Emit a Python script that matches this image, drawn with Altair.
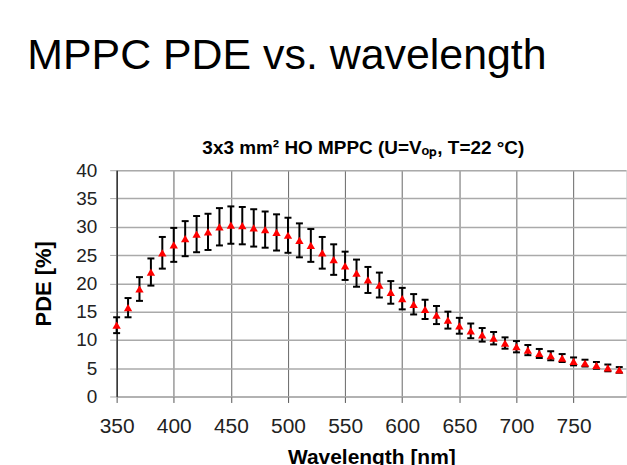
import altair as alt
import pandas as pd

# ---- data ----
wavelength = [350, 360, 370, 380, 390, 400, 410, 420, 430, 440,
              450, 460, 470, 480, 490, 500, 510, 520, 530, 540,
              550, 560, 570, 580, 590, 600, 610, 620, 630, 640,
              650, 660, 670, 680, 690, 700, 710, 720, 730, 740,
              750, 760, 770, 780, 790, 800]
pde = [12.6, 15.7, 19.0, 22.0, 25.4, 26.8, 27.9, 28.7, 29.1, 30.0,
       30.3, 30.2, 29.8, 29.5, 29.0, 28.5, 27.6, 26.7, 25.4, 24.2,
       23.1, 21.8, 20.6, 19.7, 18.4, 17.3, 16.3, 15.4, 14.4, 13.5,
       12.5, 11.6, 10.9, 10.3, 9.45, 8.8, 8.2, 7.6, 7.2, 6.8,
       6.2, 5.9, 5.5, 5.05, 4.7, 4.4]
pde_err = [1.4, 1.7, 2.1, 2.4, 2.8, 3.0, 3.1, 3.2, 3.2, 3.3,
           3.3, 3.3, 3.3, 3.2, 3.2, 3.1, 3.0, 2.9, 2.8, 2.7,
           2.5, 2.4, 2.3, 2.2, 2.0, 1.9, 1.8, 1.7, 1.6, 1.5,
           1.4, 1.3, 1.2, 1.1, 1.0, 1.0, 0.9, 0.8, 0.8, 0.7,
           0.7, 0.6, 0.6, 0.6, 0.5, 0.5]
x_ticks = [350, 400, 450, 500, 550, 600, 650, 700, 750]
x_domain = [350, 795.9]   # the reference is cut off just before 800
y_ticks = [0, 5, 10, 15, 20, 25, 30, 35, 40]

main_title = "MPPC PDE vs. wavelength"
sub_title = "3x3 mm\u00b2 HO MPPC (U=V\u2092\u209a, T=22 \u00b0C)"

df = pd.DataFrame({"wl": wavelength, "pde": pde, "err": pde_err})
df["lo"] = df["pde"] - df["err"]
df["hi"] = df["pde"] + df["err"]

FONT = "Liberation Sans"

x_scale = alt.Scale(domain=x_domain, nice=False, zero=False)
y_scale = alt.Scale(domain=[0, 40], nice=False)

x_axis = alt.Axis(title="Wavelength [nm]", values=x_ticks, format="d",
                  labelFontSize=21, labelFont=FONT, labelColor="#222",
                  labelPadding=13, labelFlush=False, labelOverlap=False,
                  tickSize=6, tickColor="#555",
                  titleFont=FONT, titleFontSize=21, titleFontWeight="bold",
                  titleColor="black", titlePadding=10,
                  domainColor="#aaa", gridColor="#666", gridWidth=1)
y_axis = alt.Axis(title="PDE [%]", values=y_ticks, format="d",
                  labelFontSize=19, labelFont=FONT, labelColor="#222",
                  labelPadding=13, labelFlush=False, labelOverlap=False,
                  tickSize=7, tickColor="#aaa",
                  titleFont=FONT, titleFontSize=22, titleFontWeight="bold",
                  titleColor="black", titlePadding=20,
                  domainColor="black", domainWidth=1,
                  gridColor="#aaa", gridWidth=1.5)

X = alt.X("wl:Q", scale=x_scale, axis=x_axis)

# points beyond the visible right edge of the reference are cut off
base = alt.Chart(df).transform_filter(alt.datum.wl <= x_domain[1])

rules = base.mark_rule(color="black", strokeWidth=2).encode(
    x=X,
    y=alt.Y("lo:Q", scale=y_scale, axis=y_axis),
    y2="hi:Q",
)

caps = base.transform_fold(["lo", "hi"], as_=["k", "v"]).mark_tick(
    orient="horizontal", color="black", thickness=2, size=7, opacity=1,
).encode(
    x=X,
    y=alt.Y("v:Q", scale=y_scale, axis=y_axis),
)

points = base.mark_point(shape="triangle-up", filled=True, color="red",
                         size=70, opacity=1).encode(
    x=X,
    y=alt.Y("pde:Q", scale=y_scale, axis=y_axis),
)

inner = alt.layer(rules, caps, points).properties(
    width=511, height=227,
    title=alt.TitleParams(text=sub_title, font=FONT, fontSize=19,
                          fontWeight="bold", color="black",
                          anchor="middle", offset=3, dx=-8),
)

chart = alt.vconcat(inner).properties(
    title=alt.TitleParams(text=main_title, font=FONT, fontSize=43,
                          fontWeight="normal", color="black",
                          anchor="start", offset=61, dx=-5),
    padding={"left": 27, "top": 34, "right": 0, "bottom": 0},
).configure_view(stroke=None).configure(background="white")

chart.save("out.html", embed_options={"renderer": "svg", "actions": False})
